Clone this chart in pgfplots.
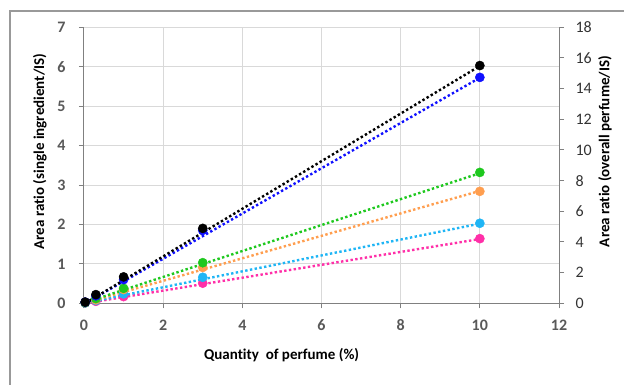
\documentclass[border=0pt]{standalone}
\usepackage{fontspec}
\setmainfont{Carlito}[Ligatures=NoCommon]
\usepackage{pgfplots}
\pgfplotsset{compat=1.18}
\definecolor{cBlack}{HTML}{000000}
\definecolor{cBlue}{HTML}{1010FF}
\definecolor{cGreen}{HTML}{1EC81E}
\definecolor{cOrange}{HTML}{FF9E4F}
\definecolor{cCyan}{HTML}{1FB5F5}
\definecolor{cPink}{HTML}{FF2FA8}
\definecolor{axgray}{HTML}{808080}
\definecolor{lblgray}{HTML}{595959}
\definecolor{gridgray}{HTML}{D9D9D9}
\pgfplotstableread{
x     blk   blu   grn   org   cyn   pnk
0.03  0.03  0.03  0.02  0.02  0.01  0.01
0.3   0.22  0.19  0.12  0.09  0.07  0.05
1     0.67  0.60  0.38  0.35  0.24  0.17
3     1.90  1.85  1.03  0.91  0.66  0.51
10    6.03  5.73  3.32  2.84  2.03  1.64
}\datatable
\pgfplotstableread{
x     blk   blu   grn   org   cyn   pnk
0.03  0.00  0.00  0.02  0.01  0.01  0.00
10    6.02  5.72  3.30  2.85  2.02  1.63
}\trendtable
\begin{document}
\begin{tikzpicture}[x=1pt,y=1pt]
\useasboundingbox (0,0) rectangle (624,-385);
\draw[color=axgray!80, line width=1.3pt] (10,-400) -- (10,-11) -- (640,-11);
\begin{axis}[
  at={(84pt,-303.3pt)}, anchor=south west,
  scale only axis, width=475pt, height=276pt,
  xmin=0, xmax=12, ymin=0, ymax=7,
  xtick={0,2,...,12}, ytick={0,1,...,7},
  axis x line*=bottom, axis y line*=left,
  axis line style={color=axgray, line width=1pt, -},
  tick align=outside, major tick length=5pt,
  tick style={color=axgray, line width=1pt},
  grid=major, major grid style={color=gridgray, line width=1pt},
  ticklabel style={font=\fontsize{16}{18}\selectfont\bfseries, text=lblgray},
  /pgf/number format/assume math mode=true,
  xticklabel style={yshift=-8pt},
  yticklabel style={xshift=-10pt},
  xlabel={Quantity\ \ of perfume (\%)},
  ylabel={Area ratio (single ingredient/IS)},
  label style={font=\fontsize{15}{17}\selectfont\bfseries},
  xlabel style={at={(axis description cs:0.416,-0.188)}, anchor=center},
  ylabel style={at={(axis description cs:-0.093,0.55)}, anchor=center},
  clip=false,
]
\foreach \c/\col in {pnk/cPink, cyn/cCyan, org/cOrange, grn/cGreen, blu/cBlue, blk/cBlack} {
  \edef\tmp{\noexpand\addplot[color=\col, line width=2.4pt, dash pattern=on 2.4pt off 2.4pt, no markers] table[x=x, y=\c] {\noexpand\trendtable};}
  \tmp
}
\foreach \c/\col in {pnk/cPink, cyn/cCyan, org/cOrange, grn/cGreen, blu/cBlue, blk/cBlack} {
  \edef\tmp{\noexpand\addplot[only marks, mark=*, mark size=4.6pt, color=\col, mark options={fill=\col, draw=\col}] table[x=x, y=\c] {\noexpand\datatable};}
  \tmp
}
\end{axis}
\begin{axis}[
  at={(84pt,-303.3pt)}, anchor=south west,
  scale only axis, width=475pt, height=276pt,
  xmin=0, xmax=12, ymin=0, ymax=18,
  ytick={0,2,...,18},
  axis x line=none, axis y line*=right,
  axis line style={color=axgray, line width=1pt, -},
  tick align=outside, major tick length=5pt,
  tick style={color=axgray, line width=1pt},
  ticklabel style={font=\fontsize{16}{18}\selectfont, text=black!80},
  /pgf/number format/assume math mode=true,
  yticklabel style={xshift=8pt},
  ylabel={Area ratio (overall perfume/IS)},
  ylabel style={font=\fontsize{15}{17}\selectfont\bfseries, at={(axis description cs:1.097,0.55)}, anchor=center, rotate=0},
]
\addplot[draw=none, forget plot] coordinates {(0,0)};
\end{axis}
\end{tikzpicture}
\end{document}
